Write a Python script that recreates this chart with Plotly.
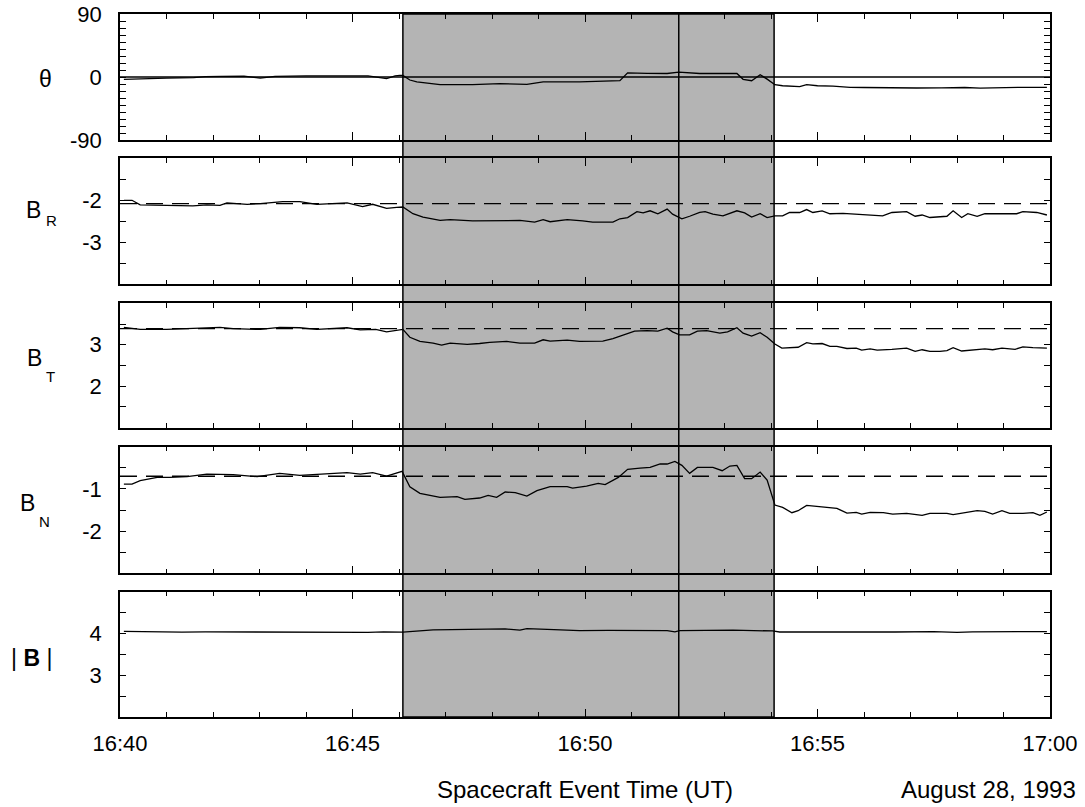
import pandas as pd
import plotly.graph_objects as go

# ---------------- data ----------------
DATE = "1993-08-28"
START = "16:40:00"
END = "17:00:00"

# (seconds after 16:40:00, value)
theta = [(5, -3.3), (30, -2), (60, -1.5), (95, -1), (110, 0.5), (130, 1), (160, 1.2),
         (181, -1.5), (200, 1), (240, 1.5), (280, 1.2), (320, 1.5), (344, -2.4), (355, 1.5),
         (361, 2.4), (365, 2.2), (374, -4.3), (383, -7), (413, -11), (455, -11), (490, -9.6),
         (525, -10.5), (546, -7), (593, -7), (645, -5.3), (655, 6), (680, 5.2), (706, 5),
         (721, 7), (748, 5), (796, 5), (804, -3.3), (815, -5.3), (826, 3.3), (835, -3),
         (845, -11), (855, -12.5), (877, -13.8), (886, -11), (900, -12.5), (920, -13),
         (942, -14.8), (960, -15), (990, -15.5), (1028, -15.7), (1060, -15.5), (1090, -15),
         (1110, -15.8), (1135, -14.8), (1160, -14.8), (1196, -14.8)]

b_r = [(5, -2.0), (15.5, -2.0), (26, -2.11), (60, -2.13), (94, -2.135), (112, -2.11),
       (129, -2.12), (138, -2.06), (164, -2.095), (181, -2.08), (210, -2.03), (232, -2.03),
       (254, -2.095), (293, -2.063), (313, -2.15), (326, -2.095), (344, -2.19), (357, -2.17),
       (365, -2.16), (378, -2.32), (391, -2.40), (413, -2.48), (426, -2.46), (455, -2.49),
       (486, -2.48), (516, -2.48), (535, -2.52), (546, -2.46), (555, -2.51), (577, -2.46),
       (597, -2.49), (610, -2.52), (636, -2.52), (645, -2.44), (655, -2.41), (667, -2.27),
       (675, -2.30), (684, -2.25), (694, -2.32), (706, -2.21), (713, -2.33), (725, -2.44),
       (735, -2.38), (748, -2.29), (755, -2.27), (765, -2.33), (778, -2.37), (796, -2.25),
       (806, -2.30), (815, -2.40), (826, -2.32), (835, -2.41), (845, -2.37), (855, -2.37),
       (864, -2.29), (877, -2.29), (886, -2.22), (894, -2.29), (906, -2.25), (916, -2.32),
       (933, -2.31), (955, -2.33), (984, -2.37), (996, -2.29), (1015, -2.27), (1026, -2.38),
       (1035, -2.35), (1045, -2.41), (1067, -2.38), (1075, -2.25), (1086, -2.41),
       (1094, -2.32), (1106, -2.38), (1116, -2.32), (1157, -2.32), (1165, -2.27),
       (1183, -2.29), (1196, -2.35)]

b_t = [(5, 3.42), (26, 3.37), (60, 3.37), (103, 3.39), (129, 3.42), (146, 3.39), (181, 3.37),
       (206, 3.42), (232, 3.41), (254, 3.37), (293, 3.41), (310, 3.36), (330, 3.37),
       (344, 3.31), (357, 3.34), (365, 3.37), (374, 3.18), (387, 3.08), (404, 3.04),
       (415, 2.99), (426, 3.04), (448, 3.01), (464, 3.03), (477, 3.06), (499, 3.08),
       (516, 3.04), (535, 3.04), (546, 3.12), (555, 3.09), (577, 3.11), (593, 3.08),
       (623, 3.09), (636, 3.15), (649, 3.24), (664, 3.33), (680, 3.34), (694, 3.33),
       (706, 3.40), (713, 3.31), (722, 3.24), (735, 3.24), (745, 3.33), (757, 3.34),
       (774, 3.28), (784, 3.31), (796, 3.41), (804, 3.28), (815, 3.21), (826, 3.29),
       (835, 3.18), (845, 3.02), (854, 2.92), (875, 2.94), (886, 3.05), (894, 3.02),
       (906, 3.03), (916, 2.96), (925, 2.96), (938, 2.91), (950, 2.92), (957, 2.87),
       (968, 2.90), (977, 2.87), (996, 2.89), (1015, 2.92), (1026, 2.84), (1035, 2.88),
       (1045, 2.84), (1058, 2.84), (1067, 2.86), (1075, 2.93), (1086, 2.85), (1106, 2.88),
       (1116, 2.90), (1126, 2.88), (1138, 2.92), (1155, 2.89), (1165, 2.95), (1178, 2.93),
       (1196, 2.92)]

b_n = [(5, -0.885), (15.5, -0.885), (26, -0.806), (48, -0.727), (64.5, -0.727),
       (86.5, -0.711), (112, -0.648), (146, -0.664), (177, -0.711), (206, -0.632),
       (232, -0.679), (258, -0.648), (293, -0.616), (310, -0.648), (326, -0.616),
       (344, -0.695), (364, -0.585), (374, -0.948), (387, -1.106), (413, -1.20),
       (435, -1.185), (445, -1.248), (464, -1.216), (475, -1.153), (486, -1.20),
       (497, -1.074), (510, -1.09), (525, -1.169), (538, -1.043), (555, -0.948),
       (577, -0.948), (584, -0.98), (602, -0.932), (617, -0.869), (626, -0.90),
       (643, -0.727), (655, -0.537), (671, -0.506), (684, -0.49), (697, -0.41),
       (706, -0.41), (716, -0.348), (725, -0.442), (735, -0.632), (745, -0.49),
       (765, -0.49), (777, -0.569), (787, -0.458), (796, -0.442), (806, -0.758),
       (815, -0.758), (826, -0.60), (835, -0.79), (845, -1.382), (855, -1.438),
       (867, -1.564), (875, -1.517), (886, -1.39), (894, -1.406), (916, -1.453),
       (925, -1.46), (938, -1.572), (950, -1.556), (957, -1.596), (968, -1.556),
       (985, -1.564), (997, -1.596), (1015, -1.58), (1035, -1.627), (1045, -1.58),
       (1067, -1.58), (1075, -1.611), (1093, -1.564), (1106, -1.517), (1116, -1.53),
       (1126, -1.596), (1138, -1.517), (1148, -1.58), (1165, -1.58), (1178, -1.564),
       (1187, -1.627), (1196, -1.548)]

b_mag = [(5, 4.05), (40, 4.04), (80, 4.03), (110, 4.04), (150, 4.035), (200, 4.04),
         (250, 4.035), (290, 4.03), (320, 4.025), (340, 4.04), (365, 4.03), (404, 4.085),
         (450, 4.09), (497, 4.11), (516, 4.08), (525, 4.115), (560, 4.09), (593, 4.07),
         (630, 4.075), (680, 4.07), (706, 4.07), (716, 4.04), (722, 4.07), (791, 4.08),
         (842, 4.06), (851, 4.035), (900, 4.03), (960, 4.04), (1000, 4.035), (1050, 4.045),
         (1080, 4.025), (1100, 4.04), (1150, 4.035), (1196, 4.045)]

# reference (pre-event average) levels drawn dashed
br_ref = -2.08
bt_ref = 3.39
bn_ref = -0.70

# event boundaries: shaded interval start, internal boundary, shaded interval end
event_times = ["16:46:05", "16:52:01", "16:54:04"]

theta_ticks = [-90, 0, 90]
br_ticks = [-3, -2]
bt_ticks = [2, 3]
bn_ticks = [-2, -1]
bmag_ticks = [3, 4]

# ---------------- figure ----------------
base = pd.Timestamp(f"{DATE} {START}")


def tx(series):
    return [base + pd.Timedelta(seconds=s) for s, _ in series]


def vy(series):
    return [v for _, v in series]


FONT = "Liberation Sans, Arial, Helvetica, sans-serif"
W, H = 1085, 807
L, R, T, B = 120, 35, 14, 90
PW, PH = W - L - R, H - T - B

fig = go.Figure()
series_list = [theta, b_r, b_t, b_n, b_mag]
for i, s in enumerate(series_list):
    k = "" if i == 0 else str(i + 1)
    fig.add_trace(go.Scatter(x=tx(s), y=vy(s), mode="lines",
                             line=dict(color="black", width=1.3),
                             xaxis="x" + k, yaxis="y" + k, showlegend=False,
                             hoverinfo="skip"))


def py(px_y):
    return (T + PH - px_y) / PH


def px(px_x):
    return (px_x - L) / PW


domains = [[py(140), 1.0], [py(284.3), py(158.3)], [py(427.7), py(303.3)],
           [py(573.3), py(446.7)], [0.0, py(591.7)]]
yranges = [[-90, 90], [-4, -1], [1, 4], [-3, 0], [2, 5]]
yticks = [theta_ticks, br_ticks, bt_ticks, bn_ticks, bmag_ticks]
yminor = [10, 0.5, 0.5, 0.5, 0.5]

t0 = f"{DATE} {START}"
t1 = f"{DATE} {END}"

layout = dict(width=W, height=H, margin=dict(l=L, r=R, t=T, b=B),
              paper_bgcolor="white", plot_bgcolor="rgba(0,0,0,0)",
              font=dict(family=FONT, size=22, color="black"), showlegend=False)

for i in range(5):
    k = "" if i == 0 else str(i + 1)
    layout["xaxis" + k] = dict(
        type="date", range=[t0, t1], domain=[0, 1], anchor="y" + k,
        showline=True, linecolor="black", linewidth=1.5, mirror="ticks",
        ticks="inside", ticklen=8, tickwidth=1.3, tickcolor="black",
        dtick=300000, tick0=t0, tickformat="%H:%M",
        minor=dict(dtick=60000, ticks="inside", ticklen=5),
        showgrid=False, zeroline=False, automargin=False,
        showticklabels=(i == 4), ticklabelstandoff=6,
        tickfont=dict(size=22, family=FONT, color="black"),
        fixedrange=True,
    )
    layout["yaxis" + k] = dict(
        domain=domains[i], range=yranges[i], anchor="x" + k,
        showline=True, linecolor="black", linewidth=1.5, mirror="ticks",
        ticks="inside", ticklen=6, tickwidth=1.3, tickcolor="black",
        tickvals=yticks[i], ticktext=[str(v) for v in yticks[i]],
        minor=dict(dtick=yminor[i], ticks="inside", ticklen=6),
        showgrid=False, zeroline=False, automargin=False, ticklabelstandoff=12,
        tickfont=dict(size=22, family=FONT, color="black"),
        fixedrange=True,
    )

fig.update_layout(**layout)

ev0, ev_mid, ev1 = [f"{DATE} {t}" for t in event_times]
shapes = [
    dict(type="rect", xref="x5", yref="paper", x0=ev0, x1=ev1, y0=0, y1=1,
         fillcolor="#b4b4b4", line=dict(color="black", width=1.5), layer="below"),
    dict(type="line", xref="x5", yref="paper", x0=ev_mid, x1=ev_mid, y0=0, y1=1,
         line=dict(color="black", width=1.5), layer="above"),
    dict(type="line", xref="paper", yref="y", x0=0, x1=1, y0=0, y1=0,
         line=dict(color="black", width=1.3), layer="above"),
]
for yr, ref in [("y2", br_ref), ("y3", bt_ref), ("y4", bn_ref)]:
    shapes.append(dict(type="line", xref="paper", yref=yr, x0=0, x1=1, y0=ref, y1=ref,
                       line=dict(color="black", width=1.3, dash="17px,9px"),
                       layer="above"))
fig.update_layout(shapes=shapes)


def ann(text, x, y, size=22, xanchor="center", yanchor="middle"):
    return dict(text=text, x=x, y=y, xref="paper", yref="paper", showarrow=False,
                xanchor=xanchor, yanchor=yanchor,
                font=dict(family=FONT, size=size, color="black"))


annotations = [
    ann("θ", px(45.5), py(78.6), 23),
    ann("B", px(33), py(210), 23), ann("R", px(51), py(220.5), 15),
    ann("B", px(34), py(358), 23), ann("T", px(50), py(376), 15),
    ann("B", px(27.5), py(503), 23), ann("N", px(44), py(521), 15),
    ann("| <b>B</b> |", px(31.7), py(658), 23),
    ann("Spacecraft Event Time (UT)", 0.5, py(789), 24),
    ann("August 28, 1993", px(1078), py(789), 24, xanchor="right"),
]
fig.update_layout(annotations=annotations)

fig.write_html("out.html")
